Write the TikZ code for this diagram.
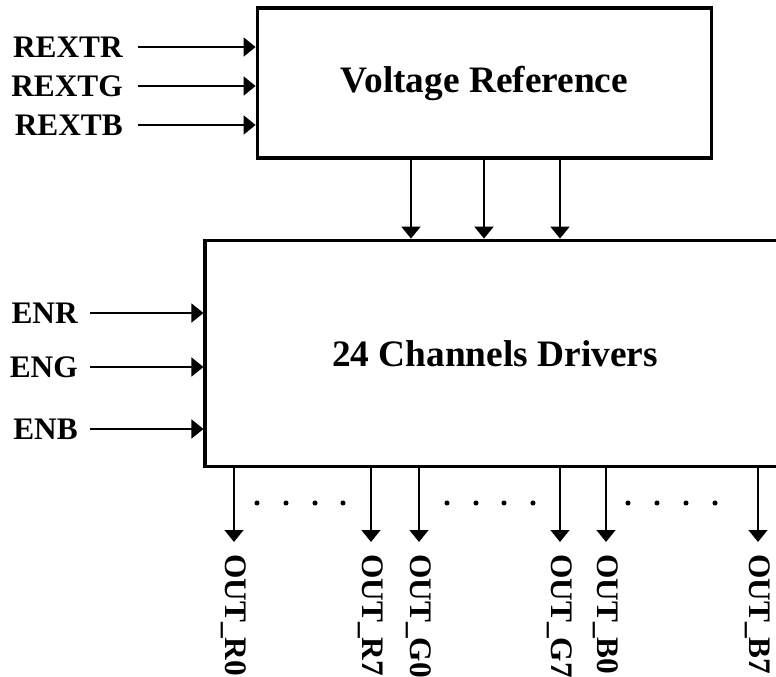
\documentclass[tikz,border=0pt]{standalone}
\usepackage{fontspec}
\setmainfont{Liberation Serif}
\usetikzlibrary{arrows.meta,positioning,calc}

\begin{document}
\begin{tikzpicture}[x=0.75pt,y=-0.75pt,font=\bfseries,
  blk/.style={draw,line width=2.3pt,inner sep=0pt,font=\fontsize{28}{32}\selectfont\bfseries},
  ar/.style={-{Triangle[length=9pt,width=14pt]},line width=2pt},
  inl/.style={anchor=east,inner sep=0pt,font=\fontsize{23.5}{27}\selectfont\bfseries},
  outl/.style={rotate=-90,anchor=west,inner xsep=9pt,inner ysep=0pt,
    font=\fontsize{23.5}{27}\selectfont\bfseries}]
\useasboundingbox (0,0) rectangle (776,676);

\node[blk,minimum width=341pt,minimum height=112.5pt] (vref) at (484.5,83) {Voltage Reference};
\node[blk,minimum width=435pt,minimum height=170pt] (drv) at (495,353.5) {24 Channels Drivers};

% reference inputs
\node[inl] (rextr) at (123,47) {REXTR};
\node[inl] (rextg) at (123,86) {REXTG};
\node[inl] (rextb) at (123,125) {REXTB};
\foreach \s in {rextr,rextg,rextb}
  \draw[ar] ([xshift=11pt]\s.east) -- (\s.east -| vref.west);

% enables
\node[inl] (enr) at (78,313) {ENR};
\node[inl] (eng) at (78,367) {ENG};
\node[inl] (enb) at (78,429) {ENB};
\foreach \s in {enr,eng,enb}
  \draw[ar] ([xshift=9pt]\s.east) -- (\s.east -| drv.west);

% reference to drivers
\foreach \x [count=\i] in {411,484,560} {
  \coordinate (v\i) at (\x,0);
  \draw[ar] (vref.south -| v\i) -- (drv.north -| v\i);
}

% outputs
\foreach \x/\n in {234/R0,371/R7,419/G0,560/G7,606/B0,758/B7} {
  \node[outl] (o\n) at (\x,542) {OUT\_\n};
  \draw[ar] (drv.south -| o\n.west) -- (o\n.west);
}
\foreach \x in {257,286,315,343,447,476,504,533,628,657,686,715}
  \fill (\x,503) circle[radius=1.9pt];
\end{tikzpicture}
\end{document}
